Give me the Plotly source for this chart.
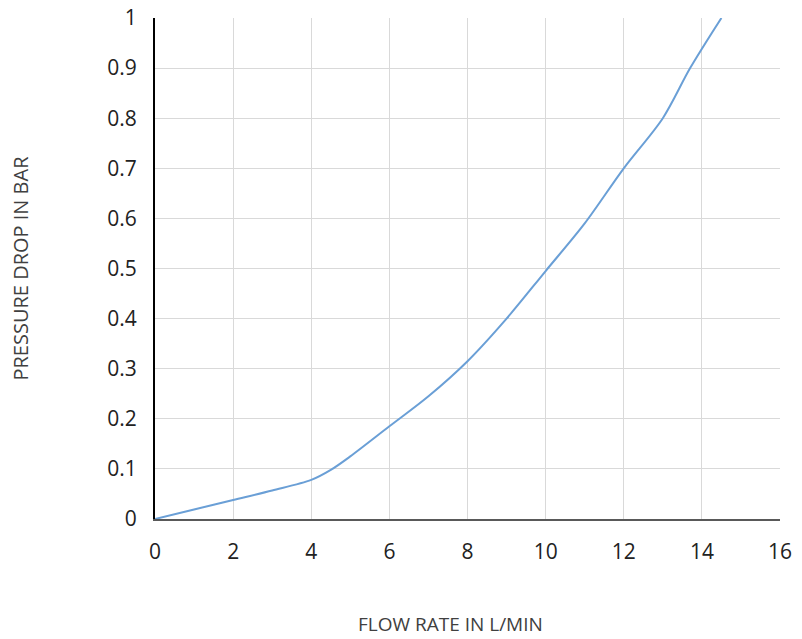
import plotly.graph_objects as go

flow_rate = [0, 1, 2, 3, 4, 4.5, 5, 6, 7, 8, 9, 10, 11, 12, 13, 13.7, 14.5]
pressure_drop = [0, 0.019, 0.038, 0.057, 0.078, 0.098, 0.125, 0.185, 0.245, 0.315, 0.40, 0.495, 0.59, 0.70, 0.80, 0.90, 1.0]

x_ticks = [0, 2, 4, 6, 8, 10, 12, 14, 16]
y_ticks = [0, 0.1, 0.2, 0.3, 0.4, 0.5, 0.6, 0.7, 0.8, 0.9, 1]
y_tick_labels = ["0", "0.1", "0.2", "0.3", "0.4", "0.5", "0.6", "0.7", "0.8", "0.9", "1"]
x_title = "FLOW RATE IN L/MIN"
y_title = "PRESSURE DROP IN BAR"

fig = go.Figure()
fig.add_trace(go.Scatter(
    x=flow_rate, y=pressure_drop, mode="lines",
    line=dict(color="#6a9fd6", width=2, shape="spline", smoothing=0.9),
    showlegend=False, hoverinfo="x+y",
))

fig.update_layout(
    width=802, height=639,
    margin=dict(l=155, r=22, t=18, b=120),
    paper_bgcolor="white", plot_bgcolor="white",
    font=dict(family="Open Sans, Noto Sans, sans-serif", color="#222222"),
    annotations=[dict(
        text=x_title, xref="paper", yref="paper",
        x=(450 - 155) / 624, y=-(624 - 519) / 501,
        xanchor="center", yanchor="middle", showarrow=False,
        font=dict(size=19, color="#404040"),
    )],
)
fig.update_xaxes(
    range=[0, 16], tickvals=x_ticks, ticktext=[str(v) for v in x_ticks],
    showgrid=True, gridcolor="#d9d9d9", gridwidth=1,
    showline=True, linecolor="#595959", linewidth=2,
    zeroline=False, ticks="", ticklabelstandoff=13, automargin=False,
    tickfont=dict(size=21, color="#222222"),
)
fig.update_yaxes(
    range=[0, 1], tickvals=y_ticks, ticktext=y_tick_labels,
    showgrid=True, gridcolor="#d9d9d9", gridwidth=1,
    showline=True, linecolor="#000000", linewidth=2,
    zeroline=False, ticks="", ticklabelstandoff=12, automargin=False,
    tickfont=dict(size=21, color="#222222"),
    title=dict(text=y_title, font=dict(size=20, color="#404040"), standoff=73),
)

fig.write_html("out.html", config={"displayModeBar": False},
               post_script="document.body.style.margin='0';")
